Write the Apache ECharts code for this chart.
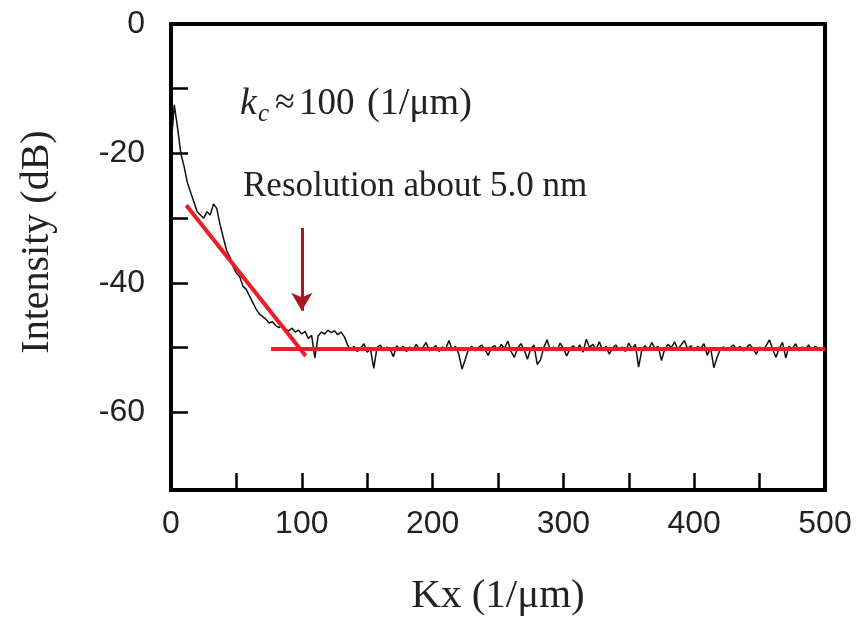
<!DOCTYPE html>
<html>
<head>
<meta charset="utf-8">
<script src="https://cdn.jsdelivr.net/npm/echarts@6/dist/echarts.min.js"></script>
<style>html,body{margin:0;padding:0;background:#fff;}#c{width:859px;height:622px;}</style>
</head>
<body>
<div id="c"></div>
<script>
// ---- data ----
const kx = [0,2.5,5,7.5,10,12.5,15,17.5,20,22.5,25,27.5,30,32.5,35,37.5,40,42.5,45,47.5,
50,52.5,55,57.5,60,62.5,65,67.5,70,72.5,75,77.5,80,82.5,85,87.5,90,92.5,95,97.5,
100,102.5,105,107.5,110,112.5,115,117.5,120,122.5,125,127.5,130,132.5,135,137.5,140,142.5,145,147.5,
150,152.5,155,157.5,160,162.5,165,167.5,170,172.5,175,177.5,180,182.5,185,187.5,190,192.5,195,197.5,
200,202.5,205,207.5,210,212.5,215,217.5,220,222.5,225,227.5,230,232.5,235,237.5,240,242.5,245,247.5,
250,252.5,255,257.5,260,262.5,265,267.5,270,272.5,275,277.5,280,282.5,285,287.5,290,292.5,295,297.5,
300,302.5,305,307.5,310,312.5,315,317.5,320,322.5,325,327.5,330,332.5,335,337.5,340,342.5,345,347.5,
350,352.5,355,357.5,360,362.5,365,367.5,370,372.5,375,377.5,380,382.5,385,387.5,390,392.5,395,397.5,
400,402.5,405,407.5,410,412.5,415,417.5,420,422.5,425,427.5,430,432.5,435,437.5,440,442.5,445,447.5,
450,452.5,455,457.5,460,462.5,465,467.5,470,472.5,475,477.5,480,482.5,485,487.5,490,492.5,495,497.5,500];
const intensity = [-19,-12.5,-16,-20,-22,-24.5,-26,-27.5,-29,-29.5,-30,-29,-29.5,-27.8,-28.5,-31,-33,-35,-36,-37.5,
-38.5,-39,-40.5,-41,-42,-43,-44,-44.8,-45.2,-45.6,-46.2,-46,-46.6,-46.9,-46.5,-47.2,-47.4,-47,-47.6,-47.3,
-47.9,-47.5,-48.6,-48.1,-51.6,-48.2,-47.6,-47.9,-47.3,-47.7,-47.4,-48.0,-47.6,-48.3,-49.6,-50.4,-49.8,-50.6,-50.1,-49.4,
-50.7,-50.2,-53.2,-50.0,-49.6,-50.5,-49.9,-50.3,-51.4,-49.7,-50.2,-49.8,-50.6,-49.9,-50.3,-49.5,-50.4,-50.0,-49.2,-50.5,
-50.1,-49.7,-50.6,-49.9,-50.2,-48.9,-50.4,-49.8,-51.0,-53.3,-51.8,-50.2,-49.8,-50.5,-50.0,-49.6,-50.3,-51.2,-50.0,-49.7,
-50.4,-49.5,-50.1,-49.0,-50.6,-51.5,-50.1,-49.4,-50.3,-51.8,-50.2,-49.6,-52.6,-51.9,-50.0,-48.8,-50.4,-49.9,-50.5,-49.3,
-50.1,-51.3,-50.2,-49.7,-50.4,-49.6,-50.7,-48.7,-50.0,-49.5,-50.3,-49.1,-50.5,-49.8,-51.0,-50.1,-49.6,-50.4,-49.9,-50.6,
-49.3,-50.2,-49.5,-53.0,-50.3,-49.7,-50.4,-49.2,-50.1,-49.8,-52.0,-50.2,-49.5,-50.0,-49.1,-50.3,-49.6,-48.9,-50.2,-49.7,
-50.5,-49.8,-50.1,-49.4,-51.2,-50.0,-53.1,-51.5,-50.2,-49.9,-50.4,-50.0,-49.6,-50.3,-49.8,-50.5,-50.0,-49.5,-50.2,-51.0,
-49.9,-50.4,-49.7,-48.8,-50.3,-51.5,-50.1,-49.2,-51.6,-49.8,-50.2,-49.4,-50.5,-49.9,-50.3,-49.6,-50.4,-49.8,-50.1,-50.4,-50.0];

// fitted red lines
const slopeLineX = [11.7, 103];
const slopeLineY = [-28, -51.3];
const floorLineX = [76.5, 500];
const floorLineY = [-50.2, -50.2];

// arrow marking resolution limit
const arrowX = 100;
const arrowFromY = -31.5;
const arrowToY = -44.3;

// axes
const xLabelStep = 100;
const xTickInterval = 50;
const yLabelValues = [0, -20, -40, -60];
const yTickValues = [-10, -20, -30, -40, -50, -60];
const xMin = 0, xMax = 500, yMin = -72, yMax = 0;

// ---- chart ----
const pairs = (xs, ys) => xs.map((x, i) => [x, ys[i]]);
const chart = echarts.init(document.getElementById('c'), null, {renderer: 'canvas'});
const serif = '"Liberation Serif","Times New Roman",serif';
const sans = '"Liberation Sans",Arial,sans-serif';
chart.setOption({
  animation: false,
  backgroundColor: '#ffffff',
  grid: {left: 171, right: 34, top: 24, bottom: 132, show: true, borderColor: '#000', borderWidth: 4},
  xAxis: {
    type: 'value', min: xMin, max: xMax, interval: xTickInterval,
    name: 'Kx (1/μm)', nameLocation: 'middle', nameGap: 86,
    nameTextStyle: {fontFamily: serif, fontSize: 41, color: '#222'},
    axisLine: {show: true, onZero: false, lineStyle: {color: '#000', width: 4}},
    axisTick: {show: true, inside: true, length: 17, lineStyle: {color: '#000', width: 2.5}},
    axisLabel: {
      margin: 18, fontFamily: sans, fontSize: 32, color: '#222',
      formatter: v => (v % xLabelStep === 0 ? String(v) : '')
    },
    splitLine: {show: false}
  },
  yAxis: {
    type: 'value', min: yMin, max: yMax,
    name: 'Intensity (dB)', nameLocation: 'middle', nameGap: 114,
    nameTextStyle: {fontFamily: serif, fontSize: 40, color: '#222', padding: [0, 0, 0, 30]},
    axisLine: {show: true, onZero: false, lineStyle: {color: '#000', width: 4}},
    axisTick: {show: true, inside: true, length: 17, customValues: yTickValues, lineStyle: {color: '#000', width: 2.5}},
    axisLabel: {customValues: yLabelValues, margin: 26, fontFamily: sans, fontSize: 32, color: '#222'},
    splitLine: {show: false}
  },
  series: [
    {
      type: 'line', name: 'spectrum', data: pairs(kx, intensity),
      symbol: 'none', lineStyle: {color: '#111', width: 1.5}, z: 2
    },
    {
      type: 'line', name: 'slope fit', data: pairs(slopeLineX, slopeLineY),
      symbol: 'none', lineStyle: {color: '#ee1c24', width: 4}, z: 3
    },
    {
      type: 'line', name: 'noise floor', data: pairs(floorLineX, floorLineY),
      symbol: 'none', lineStyle: {color: '#ee1c24', width: 4}, z: 3,
      markLine: {
        silent: true, symbol: ['none', 'arrow'], symbolSize: [16, 18],
        label: {show: false},
        lineStyle: {color: '#a8181e', width: 3, type: 'solid'},
        data: [[{coord: [arrowX, arrowFromY]}, {coord: [arrowX, arrowToY]}]]
      }
    }
  ],
  graphic: [
    {type: 'text', x: 240, y: 104, style: {text: 'k', font: 'italic 38px ' + serif, fill: '#222', verticalAlign: 'middle', align: 'left'}},
    {type: 'text', x: 258, y: 114, style: {text: 'c', font: 'italic 25px ' + serif, fill: '#222', verticalAlign: 'middle', align: 'left'}},
    {type: 'text', x: 275, y: 104, style: {text: '≈', font: '36px ' + serif, fill: '#222', verticalAlign: 'middle', align: 'left'}},
    {type: 'text', x: 299, y: 104, style: {text: '100', font: '37px ' + serif, fill: '#222', verticalAlign: 'middle', align: 'left'}},
    {type: 'text', x: 367, y: 104, style: {text: '(1/μm)', font: '38px ' + serif, fill: '#222', verticalAlign: 'middle', align: 'left'}},
    {type: 'text', x: 243, y: 187, style: {text: 'Resolution about 5.0 nm', font: '35px ' + serif, fill: '#222', verticalAlign: 'middle', align: 'left'}}
  ]
});
</script>
</body>
</html>
